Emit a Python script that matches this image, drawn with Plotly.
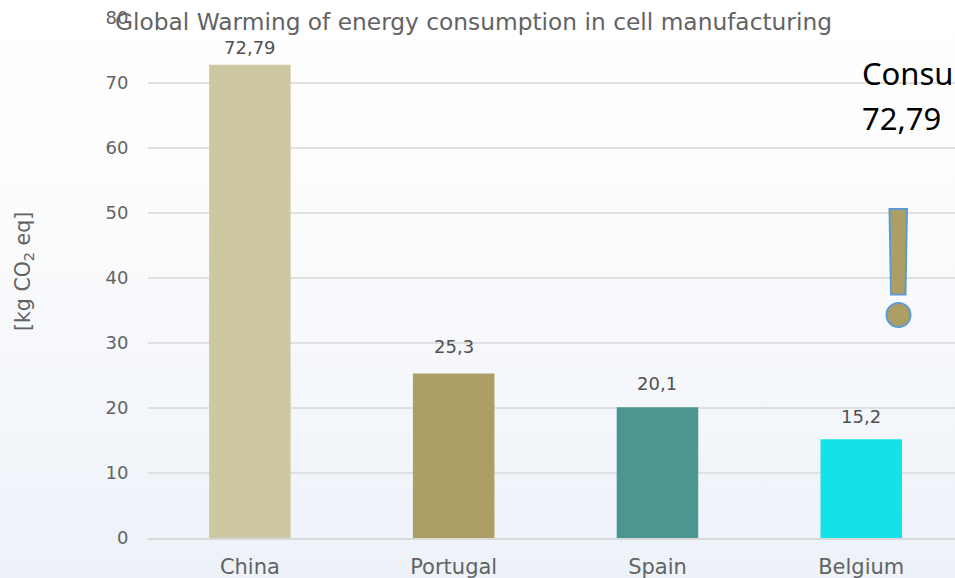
import base64
import plotly.graph_objects as go

categories = ["China", "Portugal", "Spain", "Belgium"]
values = [72.79, 25.3, 20.1, 15.2]
value_labels = ["72,79", "25,3", "20,1", "15,2"]
label_shift = [17, 27, 24, 23]
bar_colors = ["#CDC7A2", "#AD9F64", "#4B9691", "#13E2E8"]
title_text = "Global Warming of energy consumption in cell manufacturing"
y_title = "[kg CO<sub>2</sub> eq]"
FONT = "'DejaVu Sans', sans-serif"
TXT = "#636363"

W, H = 955, 578
L, R, T, B = 148, 955, 18, 538

svg = (f'<svg xmlns="http://www.w3.org/2000/svg" width="{W}" height="{H}" preserveAspectRatio="none">'
       '<defs><linearGradient id="g" x1="0" y1="0" x2="0" y2="1">'
       '<stop offset="0" stop-color="#FFFFFF"/><stop offset="0.35" stop-color="#FCFCFD"/>'
       '<stop offset="1" stop-color="#EDF2F9"/></linearGradient></defs>'
       f'<rect width="{W}" height="{H}" fill="url(#g)"/></svg>')
bg = "data:image/svg+xml;base64," + base64.b64encode(svg.encode()).decode()


def px(x):
    return (x - L) / (R - L)


def py(y):
    return (B - y) / (B - T)


fig = go.Figure(go.Bar(x=categories, y=values, marker=dict(color=bar_colors, line_width=0), hoverinfo="skip"))

for c, v, t, s in zip(categories, values, value_labels, label_shift):
    fig.add_annotation(x=c, y=v, text=t, showarrow=False, yanchor="middle", yshift=s,
                       font=dict(family=FONT, size=18, color="#505050"))

fig.add_annotation(xref="paper", yref="paper", x=px(860), y=py(73), xanchor="left", yanchor="middle",
                   text="Consu", showarrow=False, font=dict(family="'Noto Sans', sans-serif", size=31, color="#000000"))
fig.add_annotation(xref="paper", yref="paper", x=px(860), y=py(118), xanchor="left", yanchor="middle",
                   text="72,79", showarrow=False, font=dict(family="'Noto Sans', sans-serif", size=31, color="#000000"))
fig.add_annotation(xref="paper", yref="paper", x=px(24), y=py(272), xanchor="center", yanchor="middle",
                   text=y_title, textangle=-90, showarrow=False, font=dict(family=FONT, size=20.5, color=TXT))

mark = dict(xref="x domain", yref="y domain", fillcolor="#AD9F64", line=dict(color="#5B9BD5", width=2), layer="above")
fig.add_shape(type="path",
              path=f"M {px(889.5)} {py(209)} L {px(907)} {py(209)} L {px(905.5)} {py(294.5)} L {px(891)} {py(294.5)} Z",
              **mark)
fig.add_shape(type="circle", x0=px(886.5), x1=px(910.5), y0=py(303), y1=py(327), **mark)

fig.update_layout(
    width=W, height=H,
    margin=dict(l=L, r=W - R, t=T, b=H - B, pad=0, autoexpand=False),
    paper_bgcolor="rgba(0,0,0,0)", plot_bgcolor="rgba(0,0,0,0)",
    bargap=0.6, showlegend=False,
    font=dict(family=FONT, color=TXT),
    title=dict(text=title_text, xref="container", yref="container", x=115 / W, xanchor="left",
               y=1 - 22 / H, yanchor="middle", font=dict(family=FONT, size=23.3, color=TXT), pad=dict(t=0, b=0, l=0, r=0)),
    images=[dict(source=bg, xref="paper", yref="paper", x=-L / (R - L), y=1 + T / (B - T),
                 sizex=W / (R - L), sizey=H / (B - T), sizing="stretch", layer="below",
                 xanchor="left", yanchor="top")],
    xaxis=dict(type="category", range=[-0.5, 3.46], showgrid=False, zeroline=False, automargin=False,
               showline=True, linecolor="#D9D9D9", linewidth=1.5,
               ticks="outside", ticklen=9, tickcolor="rgba(0,0,0,0)", tickfont=dict(size=21, color=TXT)),
    yaxis=dict(range=[0, 80], dtick=10, showgrid=True, gridcolor="#E0E0E0", gridwidth=1.5, zeroline=False,
               automargin=False, showline=False, ticks="outside", ticklen=15, tickcolor="rgba(0,0,0,0)",
               tickfont=dict(size=18, color=TXT)),
)
fig.write_html("out.html", config={"displayModeBar": False},
               post_script="document.body.style.margin='0';document.body.style.overflow='hidden';")
